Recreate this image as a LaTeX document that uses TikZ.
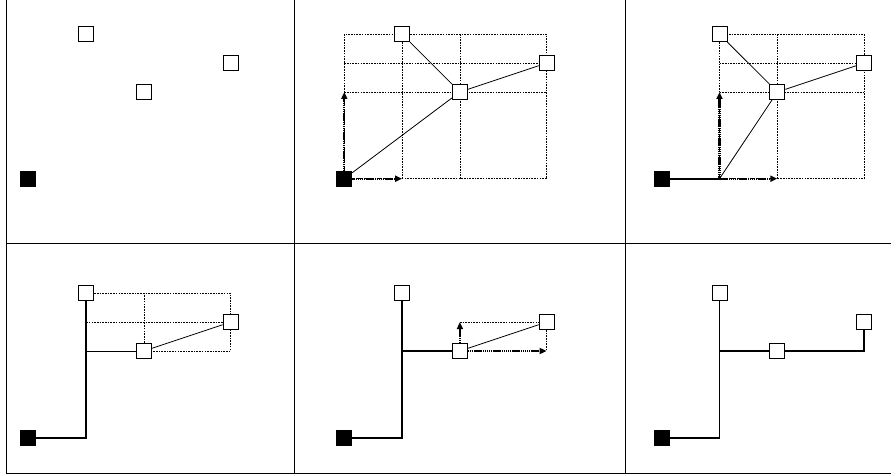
\documentclass[tikz,border=0pt]{standalone}
\usetikzlibrary{arrows.meta}
\begin{document}
\begin{tikzpicture}[x=28.9pt, y=28.9pt,
		term/.style={draw, fill=white, line width=0.8pt, minimum size=15pt, inner sep=0pt},
		src/.style={draw, fill=black, line width=0.8pt, minimum size=15pt, inner sep=0pt},
		wire/.style={line width=0.8pt},
		route/.style={line width=1.8pt},
		guide/.style={line width=0.7pt, dash pattern=on 1.6pt off 1.1pt},
		probe/.style={line width=2.2pt, dash pattern=on 1.3pt off 0.6pt, -{Triangle[length=7pt,width=6pt]}},
		frame/.style={line width=0.9pt}]
		\useasboundingbox (0pt,0pt) rectangle (891pt,-476pt);

		% table lines
		\draw[frame] (6.3pt,0pt) -- (6.3pt,-473.5pt) -- (891pt,-473.5pt);
		\draw[frame] (294pt,0pt) -- (294pt,-473.5pt);
		\draw[frame] (625.3pt,0pt) -- (625.3pt,-473.5pt);
		\draw[frame] (6.3pt,-243pt) -- (891pt,-243pt);

		% step 1: the pins
		\begin{scope}[shift={(28.3pt,-178.7pt)}]
			\node[src] (s1) at (0,0) {};
			\node[term] (a1) at (2,5) {};
			\node[term] (b1) at (4,3) {};
			\node[term] (c1) at (7,4) {};
		\end{scope}

		% step 2
		\begin{scope}[shift={(344.3pt,-178.7pt)}]
			\draw[guide] (0,0) rectangle (7,5);
			\draw[guide] (0,3) -- (7,3) (0,4) -- (7,4) (2,0) -- (2,5) (4,0) -- (4,5);
			\node[src] (s2) at (0,0) {};
			\node[term] (a2) at (2,5) {};
			\node[term] (b2) at (4,3) {};
			\node[term] (c2) at (7,4) {};

			\draw[probe] (s2) -- (2,0);
			\draw[probe] (s2) -- (0,3);
			\path (s2) edge[wire] (b2)
			(a2) edge[wire] (b2)
			(c2) edge[wire] (b2);
		\end{scope}

		% step 3
		\begin{scope}[shift={(661.7pt,-178.7pt)}]
			\draw[guide] (2,0) rectangle (7,5);
			\draw[guide] (2,3) -- (7,3) (2,4) -- (7,4) (4,0) -- (4,5);
			\node[src] (s3) at (0,0) {};
			\node[term] (a3) at (2,5) {};
			\node[term] (b3) at (4,3) {};
			\node[term] (c3) at (7,4) {};
			\coordinate (k3) at (2,0);

			\draw[route] (s3) -- (k3);
			\draw[probe] (k3) -- (4,0);
			\draw[probe] (k3) -- (2,3);
			\path (k3) edge[wire] (b3)
			(a3) edge[wire] (b3)
			(c3) edge[wire] (b3);
		\end{scope}

		% step 4
		\begin{scope}[shift={(28.3pt,-437.7pt)}]
			\draw[guide] (2,5) -- (7,5) -- (7,3) -- (4,3);
			\draw[guide] (2,4) -- (7,4) (4,3) -- (4,5);
			\node[src] (s4) at (0,0) {};
			\node[term] (a4) at (2,5) {};
			\node[term] (b4) at (4,3) {};
			\node[term] (c4) at (7,4) {};
			\coordinate (k4) at (2,0);
			\coordinate (t4) at (2,3);

			\draw[route] (s4) -- (k4) -- (a4);
			\path (t4) edge[wire] (b4)
			(b4) edge[wire] (c4);
		\end{scope}

		% step 5
		\begin{scope}[shift={(344.3pt,-437.7pt)}]
			\draw[guide] (4,4) -- (7,4) -- (7,3);
			\node[src] (s5) at (0,0) {};
			\node[term] (a5) at (2,5) {};
			\node[term] (b5) at (4,3) {};
			\node[term] (c5) at (7,4) {};
			\coordinate (k5) at (2,0);
			\coordinate (t5) at (2,3);

			\draw[route] (s5) -- (k5) -- (a5);
			\draw[route] (t5) -- (b5);
			\draw[probe] (b5) -- (4,4);
			\draw[probe] (b5) -- (7,3);
			\path (b5) edge[wire] (c5);
		\end{scope}

		% step 6: the tree
		\begin{scope}[shift={(661.7pt,-437.7pt)}]
			\node[src] (s6) at (0,0) {};
			\node[term] (a6) at (2,5) {};
			\node[term] (b6) at (4,3) {};
			\node[term] (c6) at (7,4) {};
			\coordinate (k6) at (2,0);
			\coordinate (t6) at (2,3);
			\coordinate (e6) at (7,3);

			\draw[route] (s6) -- (k6) -- (a6);
			\draw[route] (t6) -- (b6);
			\draw[route] (b6) -- (e6) -- (c6);
		\end{scope}
	\end{tikzpicture}
\end{document}
